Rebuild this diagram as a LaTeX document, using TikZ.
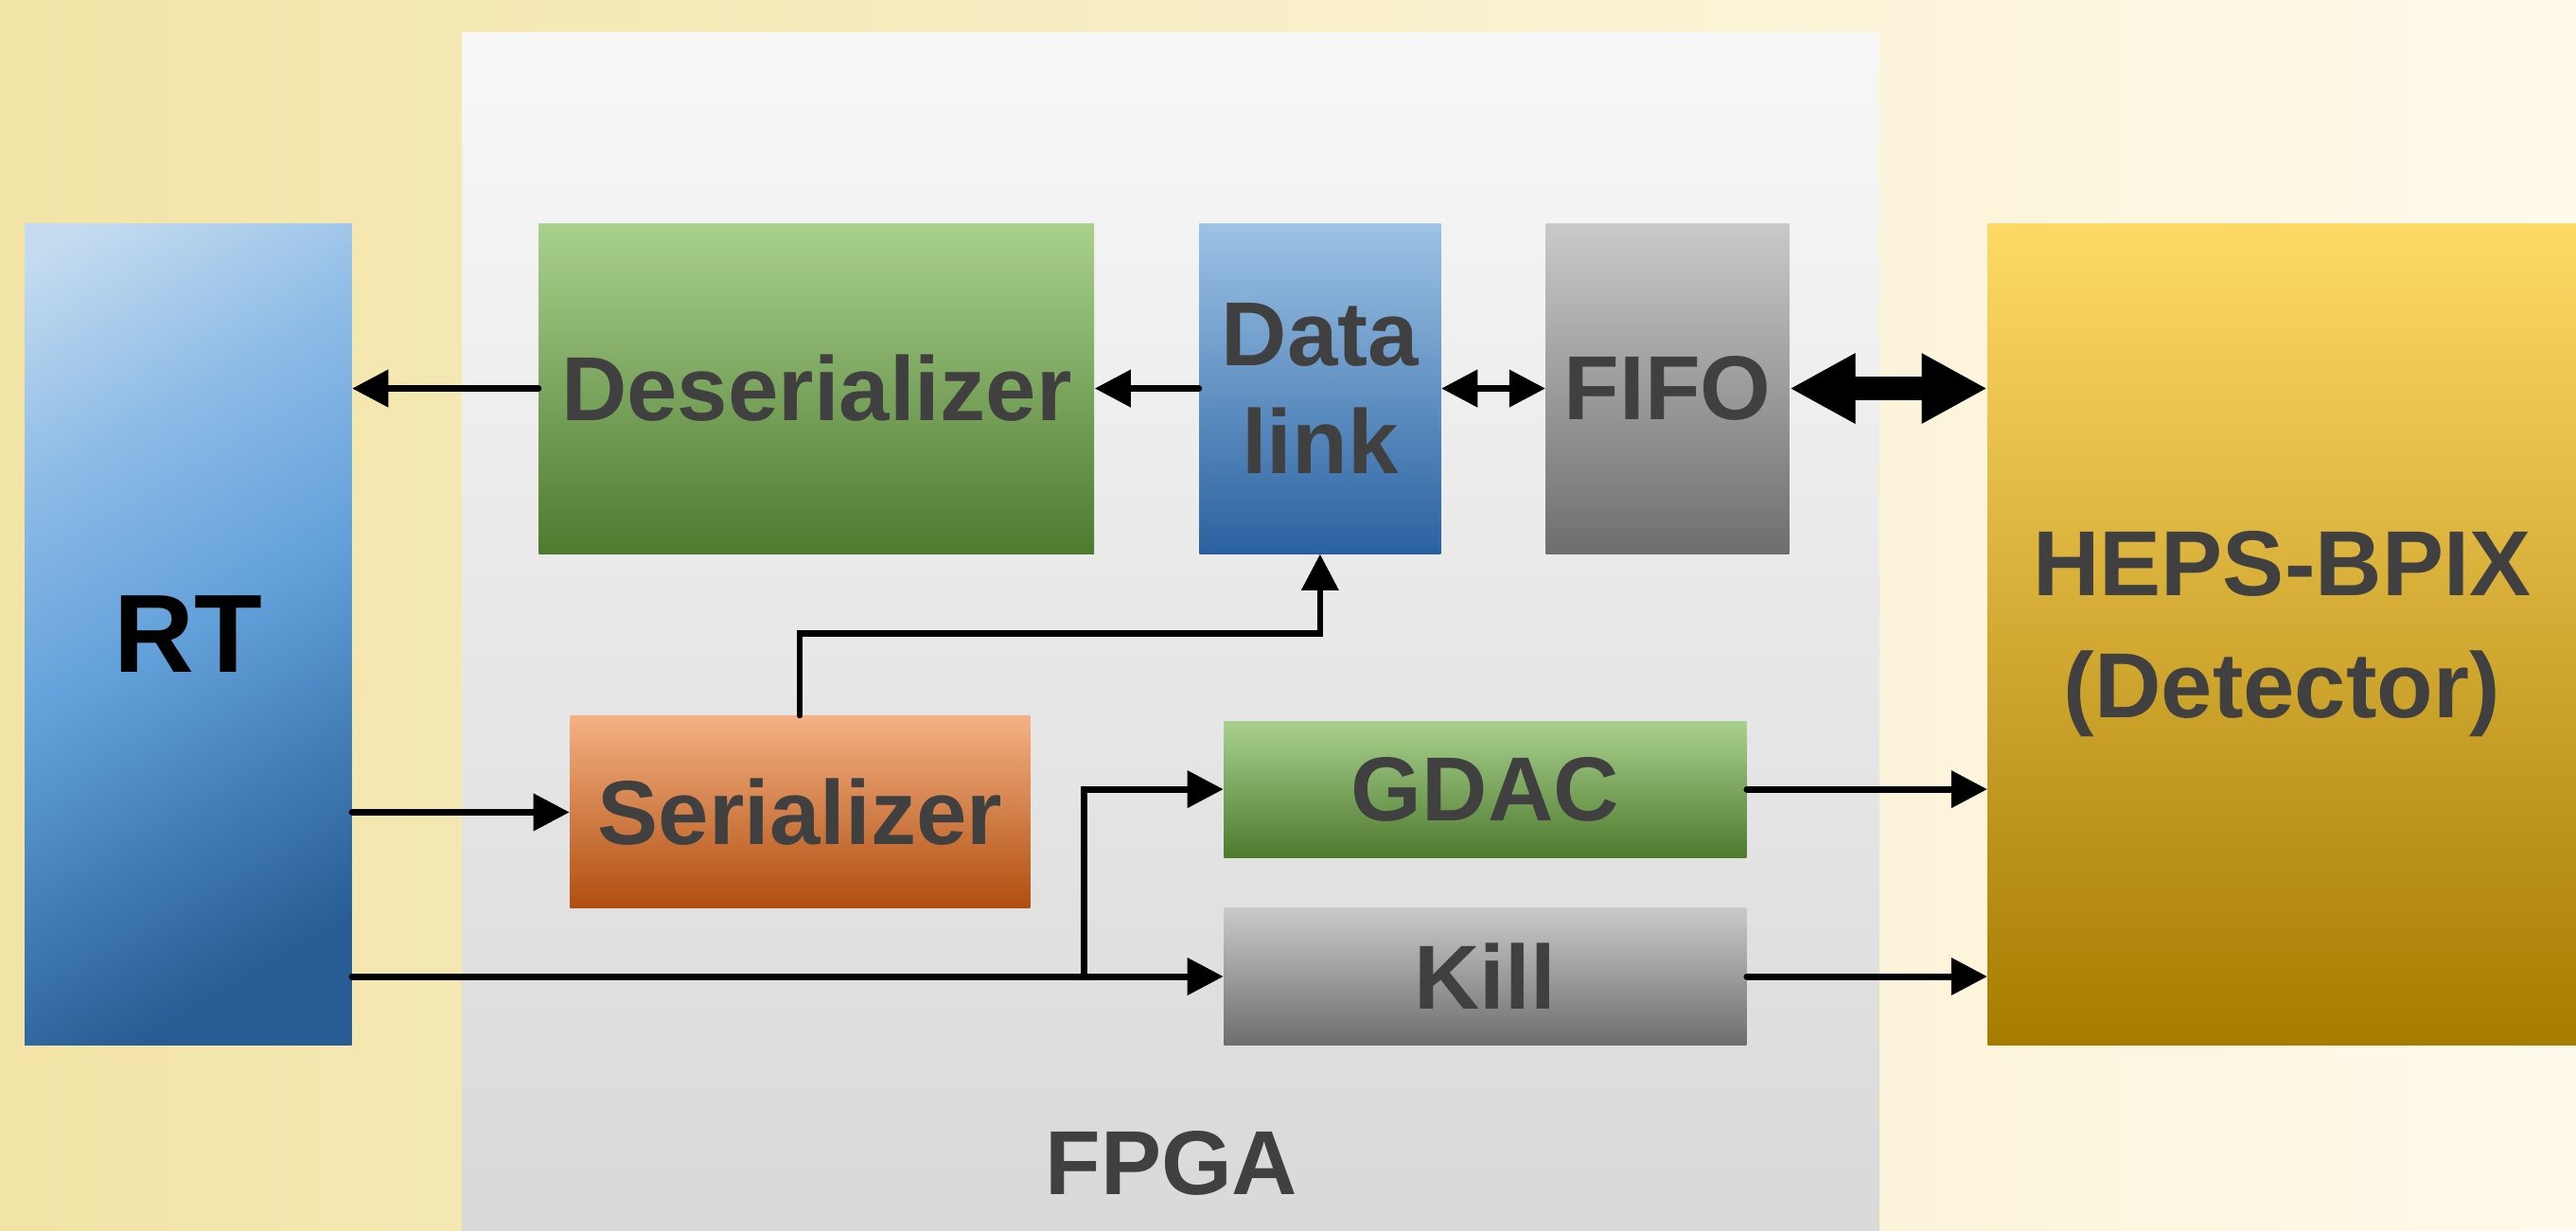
\documentclass[tikz,border=0pt]{standalone}
\usepackage{fontspec}
\setmainfont{Liberation Sans}
\usetikzlibrary{arrows.meta,calc}

\definecolor{txtgray}{HTML}{404040}
\definecolor{bgleft}{HTML}{F2E4A6}
\definecolor{bgmid}{HTML}{FFEFC6}
\definecolor{bgright}{HTML}{FFFAEC}
\definecolor{rtlight}{HTML}{C5DCF0}
\definecolor{rtupper}{HTML}{8DBBE6}
\definecolor{rtmid}{HTML}{62A0DA}
\definecolor{rtdark}{HTML}{275C94}
\pgfdeclareverticalshading{rtshade}{100bp}{color(0bp)=(rtdark); color(24bp)=(rtdark);
    color(50bp)=(rtmid); color(66bp)=(rtupper); color(82bp)=(rtlight); color(100bp)=(rtlight)}

\begin{document}
\begin{tikzpicture}[
        box/.style = {inner sep = 0pt, text = txtgray, align = center,
                      font = \fontsize{31.5}{37.5}\selectfont\bfseries},
        greenbox/.style = {box, top color = {rgb,255:red,169;green,209;blue,142},
                           middle color = {rgb,255:red,112;green,173;blue,71},
                           bottom color = {rgb,255:red,78;green,122;blue,46}},
        graybox/.style = {box, top color = {rgb,255:red,201;green,201;blue,201},
                          bottom color = {rgb,255:red,110;green,110;blue,110}},
        link/.style = {line width = 2.3pt, line cap = round,
                       -{Triangle[length = 0.44cm, width = 0.44cm]}},
        biglink/.style = {line width = 0.28cm,
                          {Triangle[length = 0.8cm, width = 0.8cm]}-{Triangle[length = 0.8cm, width = 0.8cm]}}
    ]
        % background and FPGA area
        \shade[left color = bgleft, middle color = bgmid, right color = bgright] (0, 0) rectangle (31.36, 14.98);
        \useasboundingbox (0, 0) rectangle (31.36, 14.98);
        \shade[top color = white!97!black, bottom color = white!85!black] (5.62, 0) rectangle (22.88, 14.58);
        \node[text = txtgray, font = \fontsize{31.5}{37.5}\selectfont\bfseries] (fpga) at (14.26, 0.82) {FPGA};

        % blocks
        \node[box, text = black, font = \fontsize{38.5}{46}\selectfont\bfseries,
              minimum width = 3.98cm, minimum height = 10cm,
              shading = rtshade, shading angle = 30] (rt) at (2.29, 7.26) {RT};
        \node[greenbox, minimum width = 6.76cm, minimum height = 4.02cm] (des) at (9.94, 10.25) {Deserializer};
        \node[box, minimum width = 2.94cm, minimum height = 4.02cm,
              top color = {rgb,255:red,157;green,195;blue,230},
              middle color = {rgb,255:red,91;green,155;blue,213},
              bottom color = {rgb,255:red,42;green,98;blue,160}] (dl) at (16.07, 10.25) {Data\\link};
        \node[graybox, minimum width = 2.96cm, minimum height = 4.02cm] (fifo) at (20.30, 10.25) {FIFO};
        \node[box, font = \fontsize{32}{42.5}\selectfont\bfseries,
              minimum width = 7.16cm, minimum height = 10cm,
              top color = {rgb,255:red,255;green,217;blue,102},
              middle color = {rgb,255:red,255;green,192;blue,0},
              bottom color = {rgb,255:red,166;green,124;blue,0}] (heps) at (27.78, 7.26) {HEPS-BPIX\\(Detector)};
        \node[box, minimum width = 5.6cm, minimum height = 2.34cm,
              top color = {rgb,255:red,244;green,177;blue,131},
              middle color = {rgb,255:red,237;green,125;blue,49},
              bottom color = {rgb,255:red,176;green,78;blue,15}] (ser) at (9.74, 5.09) {Serializer};
        \node[greenbox, minimum width = 6.36cm, minimum height = 1.66cm] (gdac) at (18.08, 5.37) {GDAC};
        \node[graybox, minimum width = 6.36cm, minimum height = 1.66cm] (kill) at (18.08, 3.09) {Kill};

        % connections
        \draw[link] (des.west) -- (des.west -| rt.east);
        \draw[link] (dl.west) -- (des.east);
        \draw[link, {Triangle[length = 0.44cm, width = 0.44cm]}-{Triangle[length = 0.44cm, width = 0.44cm]}] (dl.east) -- (fifo.west);
        \draw[biglink] (fifo.east) -- (fifo.east -| heps.west);
        \draw[link, line width = 2pt] (ser.north) -- ++(0, 1.0) -| (dl.south);
        \draw[link] (ser.west -| rt.east) -- (ser.west);
        \draw[link] (kill.west -| rt.east) -- (kill.west);
        \coordinate (split) at ($(kill.west) + (-1.7, 0)$);
        \draw[link] (split) |- (gdac.west);
        \draw[link] (gdac.east) -- (gdac.east -| heps.west);
        \draw[link] (kill.east) -- (kill.east -| heps.west);

    \end{tikzpicture}
\end{document}
